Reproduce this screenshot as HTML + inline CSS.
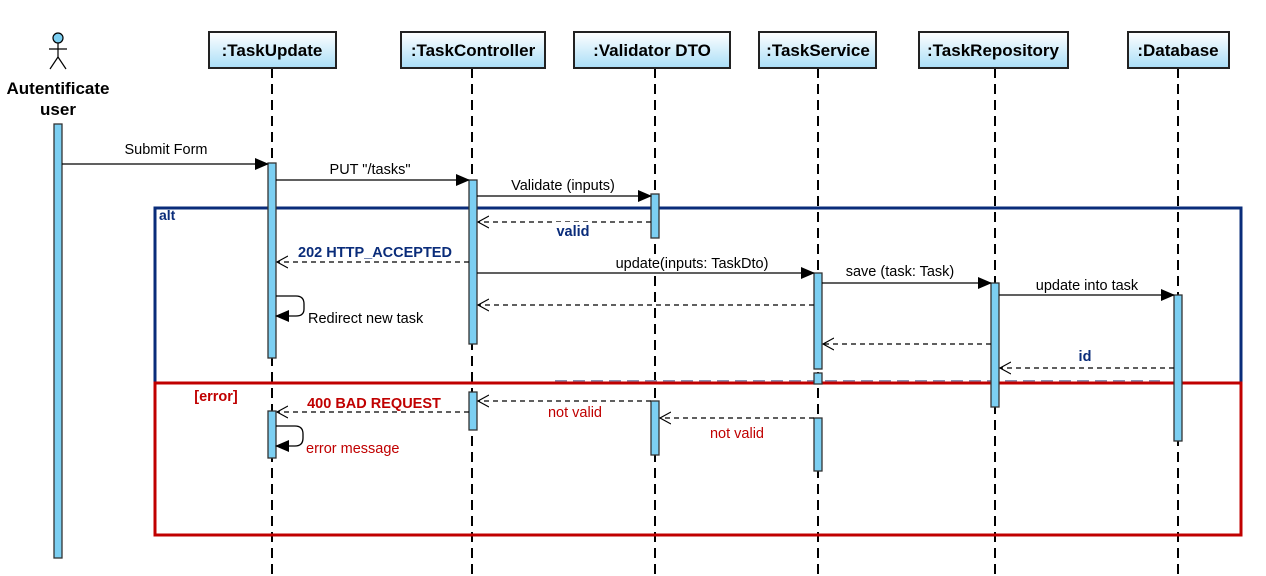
<!DOCTYPE html>
<html><head><meta charset="utf-8"><style>
html,body{margin:0;padding:0;background:#fff;}
svg{display:block;font-family:"Liberation Sans",sans-serif;}
.h{font-size:17px;font-weight:bold;fill:#000;text-anchor:middle;}
.m{font-size:14.5px;fill:#000;text-anchor:middle;}
.bl{font-size:14.5px;fill:#0a2c7a;font-weight:bold;text-anchor:middle;}
.rd{font-size:14.5px;fill:#c00000;text-anchor:middle;}
.rdb{font-size:14.5px;fill:#c00000;font-weight:bold;text-anchor:middle;}
.ll{stroke:#000;stroke-width:2;stroke-dasharray:10,6;}
.act{fill:#7ccff2;stroke:#333;stroke-width:1.3;}
.sol{stroke:#000;stroke-width:1.3;fill:none;}
.das{stroke:#000;stroke-width:1.2;stroke-dasharray:5,4;fill:none;}
.lb{fill:#fff;}
</style></head><body>
<svg width="1266" height="576" viewBox="0 0 1266 576">
<defs>
<linearGradient id="g" x1="0" y1="0" x2="0" y2="1"><stop offset="0" stop-color="#ffffff"/><stop offset="1" stop-color="#a9def7"/></linearGradient>
<marker id="fa" markerWidth="14" markerHeight="12" refX="13" refY="6" orient="auto" markerUnits="userSpaceOnUse"><path d="M0,0 L14,6 L0,12 Z" fill="#000"/></marker>
<marker id="oa" markerWidth="12" markerHeight="14" refX="11" refY="7" orient="auto" markerUnits="userSpaceOnUse"><path d="M0,1 L11,7 L0,13" fill="none" stroke="#000" stroke-width="1.2"/></marker>
</defs>
<line class="ll" x1="272" y1="68" x2="272" y2="576"/>
<line class="ll" x1="472" y1="68" x2="472" y2="576"/>
<line class="ll" x1="655" y1="68" x2="655" y2="576"/>
<line class="ll" x1="818" y1="68" x2="818" y2="576"/>
<line class="ll" x1="995" y1="68" x2="995" y2="576"/>
<line class="ll" x1="1178" y1="68" x2="1178" y2="576"/>
<g stroke="#222" stroke-width="2" fill="url(#g)">
<rect x="209" y="32" width="127" height="36"/>
<rect x="401" y="32" width="144" height="36"/>
<rect x="574" y="32" width="156" height="36"/>
<rect x="759" y="32" width="117" height="36"/>
<rect x="919" y="32" width="149" height="36"/>
<rect x="1128" y="32" width="101" height="36"/>
</g>
<text class="h" x="272" y="56">:TaskUpdate</text>
<text class="h" x="473" y="56">:TaskController</text>
<text class="h" x="652" y="56">:Validator DTO</text>
<text class="h" x="818" y="56">:TaskService</text>
<text class="h" x="993" y="56">:TaskRepository</text>
<text class="h" x="1178" y="56">:Database</text>
<g stroke="#000" stroke-width="1.2" fill="none">
<circle cx="58" cy="38" r="5" fill="#7ccff2"/>
<line x1="58" y1="43" x2="58" y2="57"/><line x1="49" y1="49" x2="67" y2="49"/>
<line x1="58" y1="57" x2="50" y2="69"/><line x1="58" y1="57" x2="66" y2="69"/>
</g>
<text class="h" x="58" y="94">Autentificate</text>
<text class="h" x="58" y="115">user</text>
<rect class="act" x="54" y="124" width="8" height="434"/>
<path d="M155,383 L155,208 L1241,208 L1241,383" fill="none" stroke="#0a2c7a" stroke-width="3"/>
<line x1="555" y1="381" x2="1160" y2="381" stroke="#8890b0" stroke-width="2" stroke-dasharray="12,6"/>
<rect x="155" y="383" width="1086" height="152" fill="none" stroke="#c00000" stroke-width="3"/>
<text x="159" y="220" font-size="14" font-weight="bold" fill="#0a2c7a">alt</text>
<text class="rdb" x="216" y="401">[error]</text>
<rect class="act" x="268" y="163" width="8" height="195"/>
<rect class="act" x="268" y="411" width="8" height="47"/>
<rect class="act" x="469" y="180" width="8" height="164"/>
<rect class="act" x="469" y="392" width="8" height="38"/>
<rect class="act" x="651" y="194" width="8" height="44"/>
<rect class="act" x="651" y="401" width="8" height="54"/>
<rect class="act" x="814" y="273" width="8" height="96"/>
<rect class="act" x="814" y="373" width="8" height="11"/>
<rect class="act" x="814" y="418" width="8" height="53"/>
<rect class="act" x="991" y="283" width="8" height="124"/>
<rect class="act" x="1174" y="295" width="8" height="146"/>
<line class="sol" x1="62" y1="164" x2="268" y2="164" marker-end="url(#fa)"/>
<rect class="lb" x="117" y="140" width="98" height="18"/><text class="m" x="166" y="154">Submit Form</text>
<line class="sol" x1="276" y1="180" x2="469" y2="180" marker-end="url(#fa)"/>
<rect class="lb" x="325" y="160" width="90" height="18"/><text class="m" x="370" y="174">PUT "/tasks"</text>
<line class="sol" x1="477" y1="196" x2="651" y2="196" marker-end="url(#fa)"/>
<rect class="lb" x="500" y="176" width="126" height="18"/><text class="m" x="563" y="190">Validate (inputs)</text>
<line class="das" x1="651" y1="222" x2="478" y2="222" marker-end="url(#oa)"/>
<rect class="lb" x="554" y="222" width="38" height="18"/><text class="bl" x="573" y="236">valid</text>
<line class="das" x1="469" y1="262" x2="277" y2="262" marker-end="url(#oa)"/>
<rect class="lb" x="296" y="242" width="158" height="18"/><text class="bl" x="375" y="257">202 HTTP_ACCEPTED</text>
<line class="sol" x1="477" y1="273" x2="814" y2="273" marker-end="url(#fa)"/>
<rect class="lb" x="602" y="254" width="180" height="18"/><text class="m" x="692" y="268">update(inputs: TaskDto)</text>
<line class="sol" x1="822" y1="283" x2="991" y2="283" marker-end="url(#fa)"/>
<rect class="lb" x="838" y="262" width="124" height="18"/><text class="m" x="900" y="276">save (task: Task)</text>
<line class="sol" x1="999" y1="295" x2="1174" y2="295" marker-end="url(#fa)"/>
<rect class="lb" x="1025" y="276" width="124" height="18"/><text class="m" x="1087" y="290">update into task</text>
<line class="das" x1="814" y1="305" x2="478" y2="305" marker-end="url(#oa)"/>
<path class="sol" d="M276,296 L296,296 Q304,296 304,304 L304,309 Q304,316 296,316 L276,316" marker-end="url(#fa)"/>
<rect class="lb" x="307" y="309" width="136" height="18"/><text x="308" y="323" font-size="14.5" fill="#000">Redirect new task</text>
<line class="das" x1="991" y1="344" x2="823" y2="344" marker-end="url(#oa)"/>
<line class="das" x1="1174" y1="368" x2="1000" y2="368" marker-end="url(#oa)"/>
<rect class="lb" x="1077" y="346" width="16" height="18"/><text class="bl" x="1085" y="361">id</text>
<line class="das" x1="651" y1="401" x2="478" y2="401" marker-end="url(#oa)"/>
<rect class="lb" x="541" y="403" width="68" height="18"/><text class="rd" x="575" y="417">not valid</text>
<line class="das" x1="469" y1="412" x2="277" y2="412" marker-end="url(#oa)"/>
<rect class="lb" x="304" y="393" width="140" height="18"/><text class="rdb" x="374" y="408">400 BAD REQUEST</text>
<line class="das" x1="814" y1="418" x2="660" y2="418" marker-end="url(#oa)"/>
<rect class="lb" x="703" y="424" width="68" height="18"/><text class="rd" x="737" y="438">not valid</text>
<path class="sol" d="M276,426 L295,426 Q303,426 303,434 L303,438 Q303,446 295,446 L276,446" marker-end="url(#fa)"/>
<rect class="lb" x="305" y="439" width="110" height="18"/><text x="306" y="453" font-size="14.5" fill="#c00000">error message</text>
</svg>
</body></html>
